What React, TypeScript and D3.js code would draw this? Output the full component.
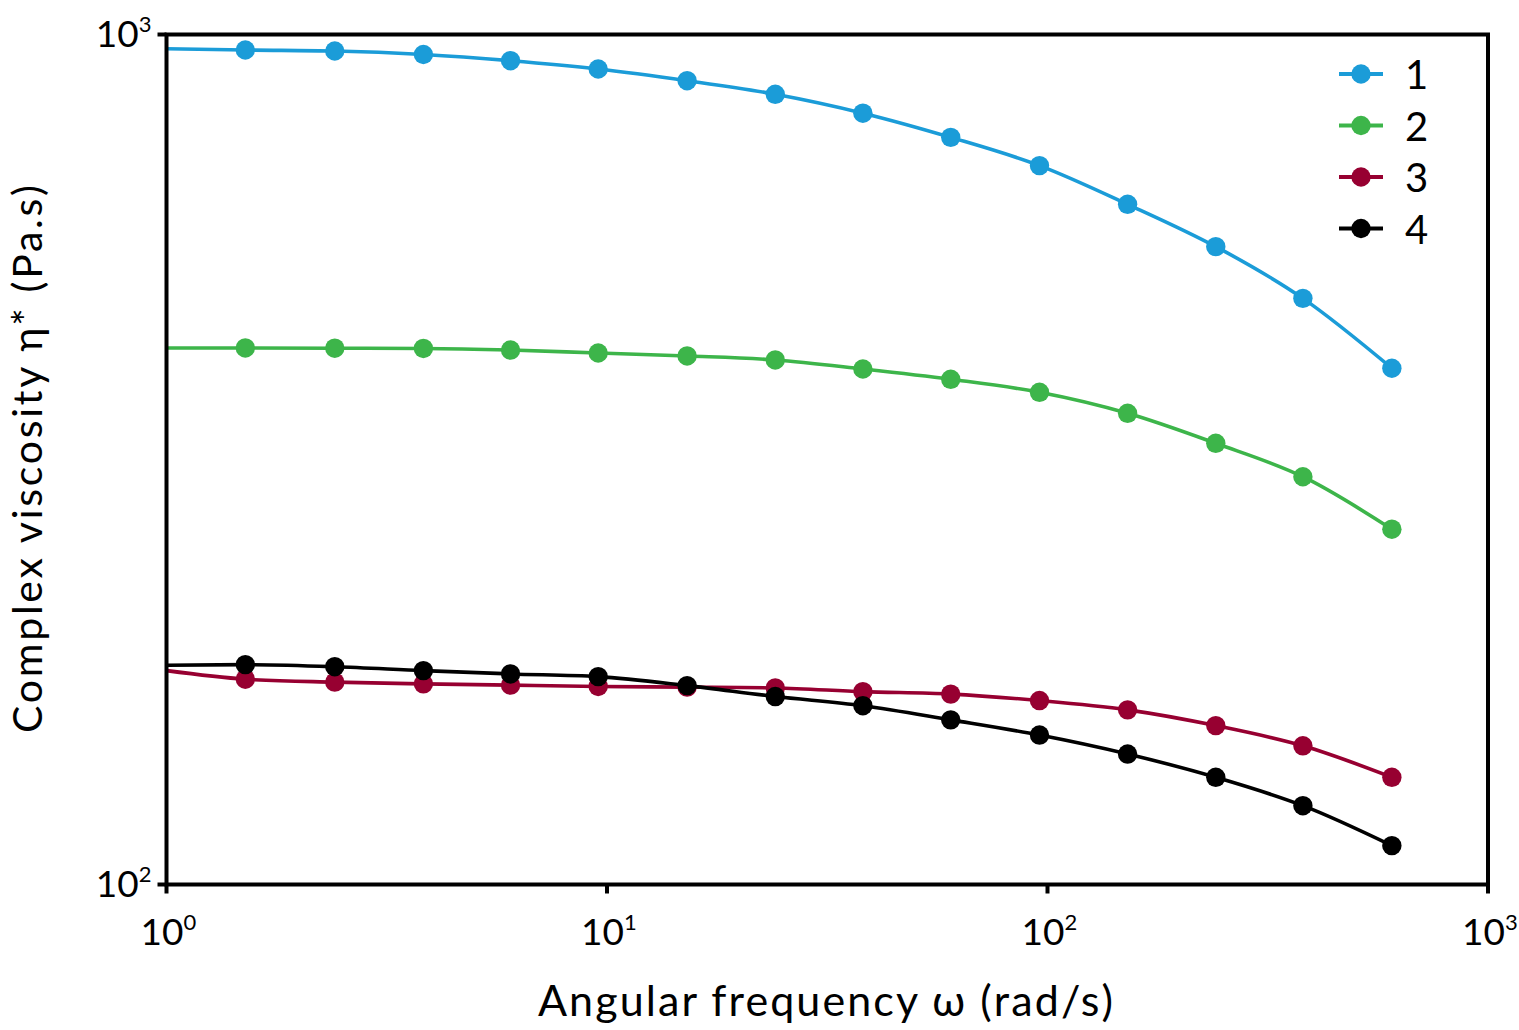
import React from 'react';
import * as d3 from 'd3';

// angular frequency of each measured point (rad/s)
const omega = [1.51, 2.41, 3.83, 6.04, 9.55, 15.2, 24.1, 38.1, 60.3, 95.9, 152, 241, 380, 605];

// complex viscosity per sample (Pa.s)
const sample1 = [958.9, 956.3, 947.3, 931.5, 910.8, 882.4, 850.5, 808.0, 756.8, 701.1, 631.3, 562.9, 489.3, 404.9];
const sample2 = [427.8, 427.5, 427.2, 425.4, 422.0, 418.6, 414.1, 404.1, 393.0, 379.4, 358.4, 330.4, 301.8, 261.8];
const sample3 = [174.4, 173.0, 172.2, 171.6, 171.0, 170.7, 170.3, 168.6, 167.5, 164.6, 160.5, 153.8, 145.6, 133.7];
const sample4 = [181.4, 180.4, 178.5, 176.9, 175.6, 171.4, 166.4, 162.3, 156.2, 149.9, 142.4, 133.7, 123.8, 111.1];

// value of the fitted curve where it meets the y axis (omega = 1)
const curveStart = [962.3, 427.8, 178.5, 181.1];

const seriesNames = ['1', '2', '3', '4'];
const seriesColors = ['#1b9cd8', '#3db54a', '#970031', '#000000'];

const xTickExps = [0, 1, 2, 3];
const yTickExps = [2, 3];

const W = 1519;
const H = 1030;
const margin = { top: 34.5, right: 31, bottom: 145.5, left: 166.5 };
const FONT = 'Lato, "Noto Sans", sans-serif';

const App: React.FC = () => {
	const series = [sample1, sample2, sample3, sample4];

	const x = d3
		.scaleLog()
		.domain([1, 1000])
		.range([margin.left, W - margin.right]);
	const y = d3
		.scaleLog()
		.domain([100, 1000])
		.range([H - margin.bottom, margin.top]);

	const line = d3
		.line<[number, number]>()
		.x((d) => x(d[0]))
		.y((d) => y(d[1]))
		.curve(d3.curveMonotoneX);

	const x0 = x.range()[0];
	const x1 = x.range()[1];
	const yB = y.range()[0];
	const yT = y.range()[1];

	return (
		<svg
			width={W}
			height={H}
			style={{ position: 'absolute', left: 0, top: 0, background: '#fff' }}
			fontFamily={FONT}>
			{/* curves and markers */}
			{series.map((vals, i) => {
				const pts: [number, number][] = [
					[1, curveStart[i]],
					...omega.map((w, j) => [w, vals[j]] as [number, number]),
				];
				return (
					<g key={i}>
						<path
							d={line(pts) ?? ''}
							fill="none"
							stroke={seriesColors[i]}
							strokeWidth={3.6}
						/>
						{omega.map((w, j) => (
							<circle
								key={j}
								cx={x(w)}
								cy={y(vals[j])}
								r={9.7}
								fill={seriesColors[i]}
							/>
						))}
					</g>
				);
			})}

			{/* frame */}
			<rect
				x={x0}
				y={yT}
				width={x1 - x0}
				height={yB - yT}
				fill="none"
				stroke="#000"
				strokeWidth={4}
			/>

			{/* x ticks */}
			{xTickExps.map((e) => {
				const px = x(Math.pow(10, e));
				return (
					<g key={e}>
						<line x1={px} x2={px} y1={yB} y2={yB + 9} stroke="#000" strokeWidth={4} />
						<text x={px - 26} y={yB + 60} fontSize={37} fill="#000">
							10
							<tspan fontSize={22} dy={-15}>
								{e}
							</tspan>
						</text>
					</g>
				);
			})}

			{/* y ticks */}
			{yTickExps.map((e) => {
				const py = y(Math.pow(10, e));
				return (
					<g key={e}>
						<line x1={x0 - 9} x2={x0} y1={py} y2={py} stroke="#000" strokeWidth={4} />
						<text x={x0 - 15} y={py + 12} textAnchor="end" fontSize={37} fill="#000">
							10
							<tspan fontSize={22} dy={-15}>
								{e}
							</tspan>
						</text>
					</g>
				);
			})}

			{/* axis titles */}
			<text
				x={538}
				y={1016}
				fontSize={43}
				textLength={575}
				lengthAdjust="spacing"
				fill="#000">
				Angular frequency ω (rad/s)
			</text>
			<text
				transform={`translate(42, 733) rotate(-90)`}
				fontSize={41}
				textLength={548}
				lengthAdjust="spacing"
				fill="#000">
				Complex viscosity η* (Pa.s)
			</text>

			{/* legend */}
			{seriesNames.map((name, i) => {
				const ly = 74 + i * 51.5;
				return (
					<g key={name}>
						<line x1={1339} x2={1383} y1={ly} y2={ly} stroke={seriesColors[i]} strokeWidth={4} />
						<circle cx={1361} cy={ly} r={9.7} fill={seriesColors[i]} />
						<text x={1405} y={ly + 15} fontSize={40} fill="#000">
							{name}
						</text>
					</g>
				);
			})}
		</svg>
	);
};

export default App;
